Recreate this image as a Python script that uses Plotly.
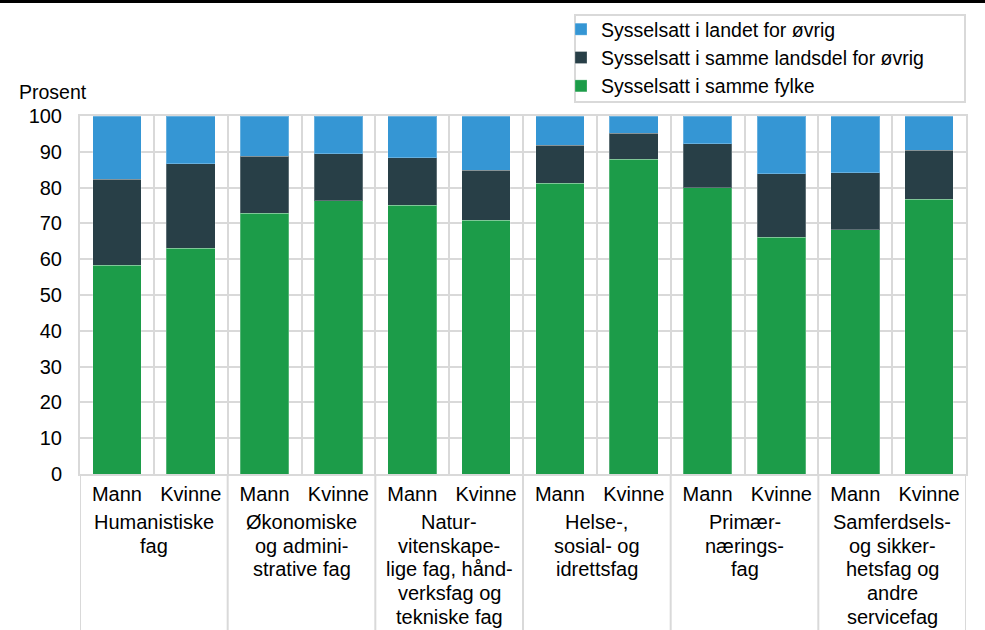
import plotly.graph_objects as go

# ---- data ----
groups = [["Humanistiske", "fag"],
          ["Økonomiske", "og admini-", "strative fag"],
          ["Natur-", "vitenskape-", "lige fag, hånd-", "verksfag og", "tekniske fag"],
          ["Helse-,", "sosial- og", "idrettsfag"],
          ["Primær-", "nærings-", "fag"],
          ["Samferdsels-", "og sikker-", "hetsfag og", "andre", "servicefag"]]
sexes = ["Mann", "Kvinne"]
samme_fylke = [58.3, 63.0, 72.8, 76.3, 75.1, 70.9, 81.2, 87.9, 80.0, 66.1, 68.2, 76.7]
samme_landsdel = [24.0, 23.6, 16.0, 13.1, 13.2, 13.9, 10.6, 7.3, 12.2, 17.8, 16.0, 13.7]
landet_ovrig = [17.7, 13.4, 11.2, 10.6, 11.7, 15.2, 8.2, 4.8, 7.8, 16.1, 15.8, 9.6]
series_names = ["Sysselsatt i samme fylke",
                "Sysselsatt i samme landsdel for øvrig",
                "Sysselsatt i landet for øvrig"]
colors = ["#1c9c49", "#283f47", "#3596d4"]
y_ticks = list(range(0, 101, 10))

# ---- layout geometry ----
W, H = 985, 630
ml, mr, mt, mb = 80, 19, 116, 156
pw, ph = W - ml - mr, H - mt - mb
def xp(px): return (px - ml) / pw
def yp(py): return (H - mb - py) / ph

n = len(groups) * len(sexes)
xs = list(range(n))
tick_text = [sexes[i % 2] for i in xs]

fig = go.Figure()
for name, vals, col in zip(series_names, [samme_fylke, samme_landsdel, landet_ovrig], colors):
    fig.add_trace(go.Bar(x=xs, y=vals, name=name, marker_color=col,
                         marker_line=dict(color="rgba(255,255,255,0.25)", width=1),
                         width=0.66))

FONT = "Liberation Sans, Arial, sans-serif"
grid = "#d9d9d9"

shapes = []
# group separators below the axis
for g in range(len(groups) + 1):
    xv = g * 2 - 0.5
    shapes.append(dict(type="line", xref="x", yref="paper", x0=xv, x1=xv,
                       y0=0, y1=yp(H + 2), line=dict(color=grid, width=2)))
# top black rule
shapes.append(dict(type="line", xref="paper", yref="paper", x0=xp(-2), x1=xp(W + 2),
                   y0=yp(1.5), y1=yp(1.5), line=dict(color="black", width=3.2)))
# legend frame
shapes.append(dict(type="rect", xref="paper", yref="paper", x0=xp(575), x1=xp(965),
                   y0=yp(102), y1=yp(15), line=dict(color=grid, width=2),
                   fillcolor="white", layer="above"))

annotations = []
LINE = 23.7
for g, lines in enumerate(groups):
    for i, line in enumerate(lines):
        annotations.append(dict(x=g * 2 + 0.5, y=0, xref="x", yref="paper", text=line,
                                showarrow=False, yanchor="middle", xanchor="center",
                                yshift=-(522 - (H - mb)) - i * LINE,
                                font=dict(size=20, color="black", family=FONT)))
annotations.append(dict(x=xp(17), y=1, xref="paper", yref="paper", text="Prosent",
                        showarrow=False, xanchor="left", yanchor="bottom", yshift=11,
                        font=dict(size=19.5, color="black", family=FONT)))

fig.update_layout(
    width=W, height=H, margin=dict(l=ml, r=mr, t=mt, b=mb, autoexpand=False),
    barmode="stack", plot_bgcolor="white", paper_bgcolor="white",
    font=dict(family=FONT, size=20, color="black"),
    showlegend=True,
    legend=dict(xref="container", yref="container", x=561 / W, y=1 - 10 / H,
                xanchor="left", yanchor="top",
                traceorder="reversed", borderwidth=0,
                bgcolor="rgba(0,0,0,0)", font=dict(size=19.5, color="black", family=FONT)),
    shapes=shapes, annotations=annotations,
)
fig.update_xaxes(range=[-0.5, n - 0.5], tickmode="array", tickvals=xs, ticktext=tick_text,
                 showgrid=False, ticks="outside", ticklen=1, tickcolor="rgba(0,0,0,0)",
                 showline=True, linecolor=grid, linewidth=2, mirror=True,
                 tickfont=dict(size=20, color="black", family=FONT),
                 minor=dict(tick0=-0.5, dtick=1, showgrid=True, gridcolor=grid, gridwidth=2),
                 zeroline=False, automargin=False)
fig.update_yaxes(range=[0, 100], tickvals=y_ticks, showgrid=True, gridcolor=grid, gridwidth=2,
                 showline=True, linecolor=grid, linewidth=2, mirror=True,
                 ticks="", ticklabelstandoff=12, zeroline=False, automargin=False,
                 tickfont=dict(size=20, color="black", family=FONT))

fig.write_html("out.html", config={"displayModeBar": False},
               post_script="document.body.style.margin='0px';")
